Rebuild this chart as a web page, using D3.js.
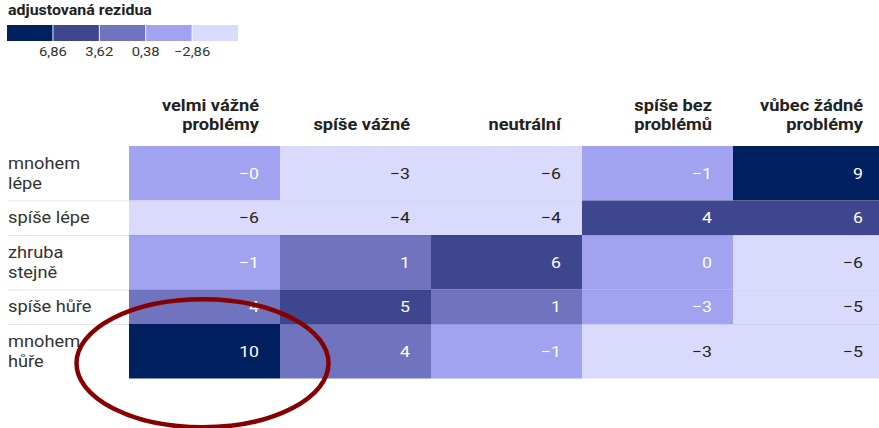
<!DOCTYPE html>
<html>
<head>
<meta charset="utf-8">
<script src="https://cdn.jsdelivr.net/npm/d3@7"></script>
<style>
  body { margin: 0; background: #fff; font-family: Roboto, sans-serif; }
  svg text { font-family: Roboto, sans-serif; }
</style>
</head>
<body>
<svg id="chart"></svg>
<script>
// column headers (lines), row labels (lines), residual values per row
var columns = [
  ["velmi vážné", "problémy"],
  ["spíše vážné"],
  ["neutrální"],
  ["spíše bez", "problémů"],
  ["vůbec žádné", "problémy"]
];
var rows = [
  ["mnohem", "lépe"],
  ["spíše lépe"],
  ["zhruba", "stejně"],
  ["spíše hůře"],
  ["mnohem", "hůře"]
];
// shown rounded in the table; decimals estimated from the colour buckets
var values = [
  [-0.2, -3.1, -6, -1, 9],
  [-6, -4, -4, 4.2, 6],
  [-1, 1, 6, 0, -6],
  [3.5, 5, 1, -2.7, -5],
  [10, 3.5, -1, -3.2, -5]
];
var legendTitle = "adjustovaná rezidua";
var thresholds = [-2.86, 0.38, 3.62, 6.86];
var palette = ["#dadafc", "#a1a3f1", "#7073be", "#3e478d", "#002060"];

var W = 879, H = 428;
var SX = 1.14; // text in the picture is slightly wider than tall
var svg = d3.select("#chart").attr("width", W).attr("height", H);

var color = d3.scaleThreshold().domain(thresholds).range(palette);
var fmtComma = d3.formatLocale({decimal: ",", thousands: " ", grouping: [3], currency: ["", ""], minus: "\u2212"}).format(".2f");

function place(sel, fx, fy) {
  sel.attr("x", 0).attr("y", 0)
    .attr("transform", function(d, i){ return "translate(" + fx(d, i) + "," + fy(d, i) + ") scale(" + SX + ",1)"; });
}

// ---- legend
svg.append("text")
  .attr("font-size", 14).attr("font-weight", 700).attr("fill", "#222")
  .text(legendTitle)
  .call(place, function(){ return 8; }, function(){ return 15; });

var lx = d3.scaleBand().domain(d3.range(palette.length)).range([7, 238]).paddingInner(0.02);
var lg = svg.append("g");
lg.selectAll("rect").data(palette.slice().reverse()).join("rect")
  .attr("x", function(d, i){ return lx(i); })
  .attr("y", 25)
  .attr("width", lx.bandwidth())
  .attr("height", 16)
  .attr("fill", function(d){ return d; });
lg.selectAll("text").data(thresholds.slice().reverse()).join("text")
  .attr("text-anchor", "middle")
  .attr("font-size", 13).attr("fill", "#333")
  .text(function(d){ return fmtComma(d); })
  .call(place, function(d, i){ return lx(i + 1) - lx.step() * lx.paddingInner() / 2; }, function(){ return 56; });

// ---- table layout
var tableTop = 146, lineH = 20, padV = 14.5;
var rowH = rows.map(function(r){ return r.length * lineH + padV; });
var rowY = [];
rows.reduce(function(acc, r, i){ rowY.push(acc); return acc + rowH[i]; }, tableTop);

var x = d3.scaleBand().domain(d3.range(columns.length)).range([129, 884]);
var padR = 21;

// headers
var headLines = [];
columns.forEach(function(lines, c){
  lines.forEach(function(s, k){ headLines.push({c: c, s: s, k: lines.length - 1 - k}); });
});
svg.append("g").selectAll("text").data(headLines).join("text")
  .attr("text-anchor", "end")
  .attr("font-size", 16).attr("font-weight", 700).attr("fill", "#222")
  .text(function(d){ return d.s; })
  .call(place, function(d){ return x(d.c) + x.bandwidth() - padR; }, function(d){ return 130 - d.k * 19; });

// cells
var cells = [];
values.forEach(function(row, r){
  row.forEach(function(v, c){ cells.push({r: r, c: c, v: v}); });
});

var cg = svg.append("g");
cg.selectAll("rect").data(cells).join("rect")
  .attr("x", function(d){ return x(d.c); })
  .attr("y", function(d){ return rowY[d.r]; })
  .attr("width", x.bandwidth())
  .attr("height", function(d){ return rowH[d.r]; })
  .attr("fill", function(d){ return color(d.v); });

// faint row borders
var sep = rowY.slice(1);
svg.append("g").selectAll("line").data(sep).join("line")
  .attr("x1", 8).attr("x2", 129)
  .attr("y1", function(d){ return d + 0.5; }).attr("y2", function(d){ return d + 0.5; })
  .attr("stroke", "#e6e6e6");
svg.append("g").selectAll("line").data(sep).join("line")
  .attr("x1", 129).attr("x2", 884)
  .attr("y1", function(d){ return d + 0.5; }).attr("y2", function(d){ return d + 0.5; })
  .attr("stroke", "rgba(0,0,0,0.06)");

cg.selectAll("text").data(cells).join("text")
  .attr("text-anchor", "end")
  .attr("font-size", 15.5)
  .attr("fill", function(d){ return color(d.v) === palette[0] ? "#222" : "#fff"; })
  .text(function(d){ return (d.v < 0 ? "\u2212" : "") + Math.abs(Math.round(d.v)); })
  .call(place, function(d){ return x(d.c) + x.bandwidth() - padR; },
               function(d){ return rowY[d.r] + rowH[d.r] / 2 + 5.5; });

// row labels
var rowLines = [];
rows.forEach(function(lines, r){
  lines.forEach(function(s, k){ rowLines.push({r: r, s: s, k: k, n: lines.length}); });
});
svg.append("g").selectAll("text").data(rowLines).join("text")
  .attr("font-size", 16).attr("fill", "#333")
  .text(function(d){ return d.s; })
  .call(place, function(){ return 8; },
               function(d){ return rowY[d.r] + rowH[d.r] / 2 - (d.n - 1) * lineH / 2 + 5.5 + d.k * lineH; });

// annotation ellipse around "mnohem hůře" x "velmi vážné problémy"
svg.append("ellipse")
  .attr("cx", x(0) + x.bandwidth() / 2 - 2)
  .attr("cy", rowY[4] + rowH[4] / 2 + 12)
  .attr("rx", 126)
  .attr("ry", 64)
  .attr("fill", "none")
  .attr("stroke", "#850000")
  .attr("stroke-width", 4.5);
</script>
</body>
</html>
